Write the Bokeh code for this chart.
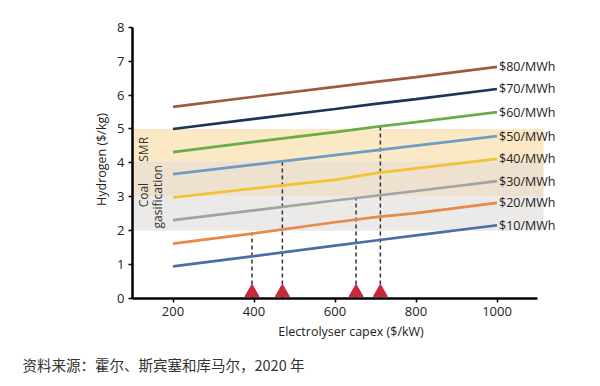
from bokeh.plotting import figure
from bokeh.models import Range1d, Title
from bokeh.core.properties import value
from bokeh.embed import file_html
from bokeh.resources import INLINE
import math

# ---- data ----
capex = [200, 400, 600, 700, 800, 1000]
series_names = ["$10/MWh", "$20/MWh", "$30/MWh", "$40/MWh", "$50/MWh", "$60/MWh", "$70/MWh", "$80/MWh"]
series_values = [
    [0.95, 1.25, 1.56, 1.71, 1.86, 2.16],
    [1.62, 1.92, 2.25, 2.40, 2.52, 2.82],
    [2.31, 2.60, 2.89, 3.03, 3.17, 3.46],
    [2.98, 3.25, 3.50, 3.70, 3.84, 4.12],
    [3.67, 3.95, 4.23, 4.37, 4.51, 4.79],
    [4.32, 4.62, 4.91, 5.06, 5.20, 5.50],
    [5.00, 5.30, 5.59, 5.74, 5.88, 6.18],
    [5.65, 5.95, 6.24, 6.39, 6.53, 6.83],
]
series_colors = ["#4a6fa5", "#e8884a", "#a3a3a3", "#f2c232", "#6f9cc4", "#6aab4a", "#1e3557", "#9e5b3c"]

band_bottom = [4.05, 3.0, 2.0]
band_top = [5.0, 4.05, 3.0]
band_colors = ["#fbe8c4", "#eee1d0", "#ebeae8"]
band_left = 100
band_right = 1115

marker_capex = [395, 470, 652, 712]
marker_top = [1.95, 4.05, 2.95, 5.1]

x_ticks = [200, 400, 600, 800, 1000]
y_ticks = [0, 1, 2, 3, 4, 5, 6, 7, 8]

FONT = "Open Sans"

p = figure(width=584, height=384, output_backend="svg", toolbar_location=None,
           x_range=Range1d(100, 1179), y_range=Range1d(0, 8.2),
           min_border_left=132, min_border_right=15, min_border_top=20, min_border_bottom=86)
p.outline_line_color = None
p.grid.visible = False

# bands
p.quad(left=[band_left] * len(band_bottom), right=[band_right] * len(band_bottom),
       bottom=band_bottom, top=band_top, fill_color=band_colors, line_color=None)

# band labels
p.text(x=[126], y=[4.4], text=["SMR"], angle=math.pi / 2, text_align="center",
       text_baseline="middle", text_font=value(FONT), text_font_size="12px", text_color="#333333")
p.text(x=[126], y=[3.05], text=["Coal"], angle=math.pi / 2, text_align="center",
       text_baseline="middle", text_font=value(FONT), text_font_size="12px", text_color="#333333")
p.text(x=[162], y=[3.0], text=["gasification"], angle=math.pi / 2, text_align="center",
       text_baseline="middle", text_font=value(FONT), text_font_size="12px", text_color="#333333")

# dashed drop lines
p.segment(x0=marker_capex, y0=[0] * len(marker_capex), x1=marker_capex, y1=marker_top,
          line_color="#333333", line_width=1.5, line_dash="4 3")

# series lines and end labels
for name, vals, col in zip(series_names, series_values, series_colors):
    p.line(capex, vals, line_color=col, line_width=2.7)
    p.text(x=[capex[-1]], y=[vals[-1]], text=[name], x_offset=2, text_align="left",
           text_baseline="middle", text_font=value(FONT), text_font_size="12.5px",
           text_color="#222222")

# triangles
p.scatter(marker_capex, [0.18] * len(marker_capex), marker="triangle", size=14,
          fill_color="#c8283a", line_color="#c8283a")

# axes
for ax in (p.xaxis[0], p.yaxis[0]):
    ax.axis_line_width = 2.5
    ax.axis_line_color = "black"
    ax.major_tick_line_color = "black"
    ax.major_tick_line_width = 1.5
    ax.major_tick_in = 0
    ax.major_tick_out = 4
    ax.minor_tick_line_color = None
    ax.major_label_text_font = FONT
    ax.major_label_text_font_size = "13px"
    ax.major_label_text_color = "#222222"
    ax.axis_label_text_font = FONT
    ax.axis_label_text_font_size = "12.5px"
    ax.axis_label_text_font_style = "normal"
    ax.axis_label_text_color = "#222222"

p.xaxis.ticker = x_ticks
p.yaxis.ticker = y_ticks
p.xaxis.bounds = (100, 1100)
p.yaxis.bounds = (0, 8)
p.xaxis.axis_label = "Electrolyser capex ($/kW)"
p.yaxis.axis_label = "Hydrogen ($/kg)"
p.yaxis.axis_label_standoff = 4
p.xaxis.axis_label_standoff = 4
p.yaxis.major_label_standoff = 4
p.xaxis.major_label_standoff = 4

footer = Title(text="资料来源：霍尔、斯宾塞和库马尔，2020 年", align="left",
               text_font="Noto Sans CJK SC", text_font_size="14.5px", text_font_style="normal",
               text_color="#333333", offset=-110, standoff=19)
p.add_layout(footer, "below")

open("out.html", "w").write(file_html(p, INLINE))
